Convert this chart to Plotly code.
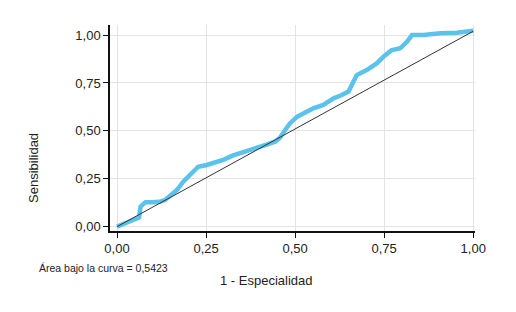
import plotly.graph_objects as go

# ROC curve (1 - Especialidad, Sensibilidad)
fpr = [0.000, 0.010, 0.025, 0.045, 0.062, 0.066, 0.080, 0.100, 0.120, 0.135, 0.150, 0.168,
       0.186, 0.205, 0.228, 0.252, 0.275, 0.300, 0.326, 0.350, 0.374, 0.400, 0.420, 0.445,
       0.458, 0.472, 0.486, 0.506, 0.523, 0.551, 0.579, 0.608, 0.631, 0.650, 0.659, 0.673,
       0.701, 0.729, 0.748, 0.770, 0.795, 0.814, 0.828, 0.860, 0.907, 0.954, 1.000]
tpr = [0.000, 0.008, 0.022, 0.035, 0.048, 0.105, 0.128, 0.128, 0.130, 0.140, 0.160, 0.191,
       0.235, 0.270, 0.313, 0.322, 0.335, 0.350, 0.372, 0.385, 0.398, 0.412, 0.428, 0.445,
       0.465, 0.505, 0.540, 0.574, 0.592, 0.618, 0.635, 0.670, 0.687, 0.705, 0.739, 0.791,
       0.817, 0.852, 0.887, 0.920, 0.931, 0.965, 1.000, 1.000, 1.009, 1.012, 1.022]

# reference diagonal
diag_x = [0.0, 1.0]
diag_y = [0.0, 1.02]

tick_vals = [0.0, 0.25, 0.5, 0.75, 1.0]
tick_text = ["0,00", "0,25", "0,50", "0,75", "1,00"]

auc_text = "Área bajo la curva = 0,5423"
x_title = "1 - Especialidad"
y_title = "Sensibilidad"

FONT = "Liberation Sans Narrow, Arial Narrow, Liberation Sans, Arial, sans-serif"

fig = go.Figure()
fig.add_trace(go.Scatter(x=fpr, y=tpr, mode="lines",
                         line=dict(color="#5bc2ec", width=4.5), showlegend=False))
fig.add_trace(go.Scatter(x=diag_x, y=diag_y, mode="lines",
                         line=dict(color="#333333", width=1), showlegend=False))

axis_common = dict(
    showline=True, linecolor="#111111", linewidth=1.5,
    ticks="outside", ticklen=5, tickcolor="#111111", tickwidth=1.2,
    showgrid=True, gridcolor="#e3e3e3", gridwidth=1.2,
    zeroline=False, tickvals=tick_vals, ticktext=tick_text,
    tickfont=dict(family=FONT, size=13, color="#222222"),
    fixedrange=True,
)

fig.update_layout(
    width=508, height=304,
    margin=dict(l=102, r=41, t=17, b=81),
    paper_bgcolor="white", plot_bgcolor="white",
    xaxis=dict(range=[-0.0197, 1.005], **axis_common),
    yaxis=dict(range=[-0.0225, 1.0525], **axis_common),
    annotations=[
        dict(text=auc_text, xref="paper", yref="paper", x=0, y=0, xanchor="left",
             xshift=-73, yshift=-37, yanchor="middle", showarrow=False,
             font=dict(family=FONT, size=10.5, color="#222222")),
        dict(text=x_title, xref="paper", yref="paper", x=0, y=0, xanchor="center",
             xshift=156, yshift=-49, yanchor="middle", showarrow=False,
             font=dict(family=FONT, size=13, color="#222222")),
        dict(text=y_title, xref="paper", yref="paper", x=0, y=0, xanchor="center",
             yanchor="middle", xshift=-77, yshift=63, textangle=-90, showarrow=False,
             font=dict(family=FONT, size=13, color="#222222")),
    ],
)

fig.write_html("out.html")
